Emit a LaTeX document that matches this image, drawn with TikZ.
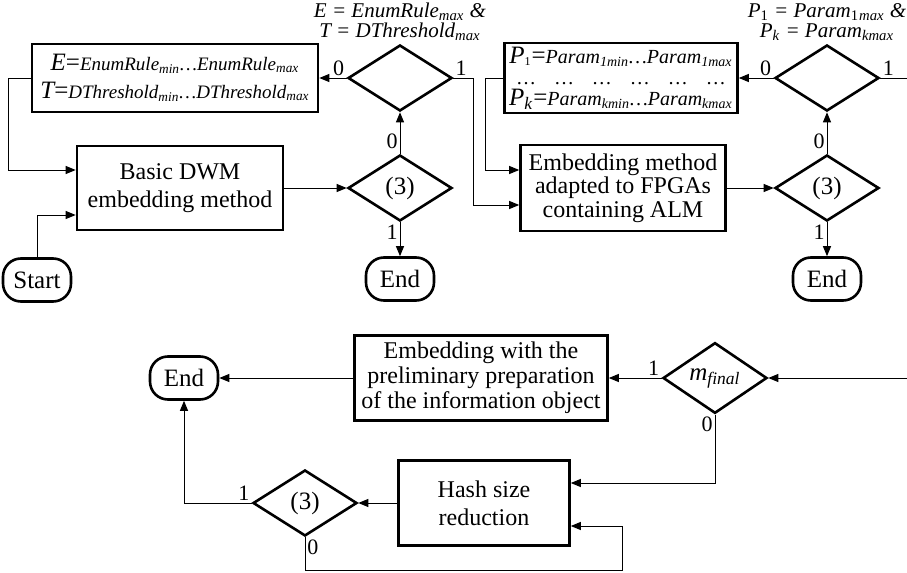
\documentclass[tikz,border=0pt]{standalone}
\usepackage{fontspec}
\setmainfont{Liberation Serif}
\usetikzlibrary{calc,shapes.geometric,arrows.meta}
\newcommand{\lo}[1]{\textsubscript{#1}}
\newcommand{\bigit}[1]{{\fontsize{12.5}{13}\selectfont\itshape #1}}
\newcommand{\eqs}{{\fontsize{12.5}{13}\selectfont=}}
\tikzset{
  block/.style={draw, line width=1.3pt, align=center, inner sep=1pt,
    font=\fontsize{12}{14}\selectfont},
  decision/.style={draw, diamond, line width=1.3pt, inner sep=0pt,
    minimum width=52pt, minimum height=33pt, font=\fontsize{12.5}{13}\selectfont},
  terminal/.style={draw, rounded corners=9pt, line width=1.3pt, inner sep=0pt,
    minimum width=34pt, minimum height=21.5pt, font=\fontsize{12.5}{13}\selectfont},
  conn/.style={line width=0.5pt},
  flow/.style={conn, -{Triangle[length=5pt,width=4pt]}},
  bit/.style={font=\fontsize{11}{11}\selectfont, inner sep=1pt},
  cond/.style={align=center, inner sep=0pt, font=\fontsize{10.5}{10}\selectfont\itshape},
}
\begin{document}
\begin{tikzpicture}[x=0.5pt, y=-0.5pt]
\useasboundingbox (0,0) rectangle (907,573);

% first stage
\node[terminal] (start) at (37,280) {Start};
\node[block, minimum width=103pt, minimum height=42pt] (basic) at (180,188)
  {Basic DWM\\embedding method};
\node[block, minimum width=143pt, minimum height=34pt] (range1) at (175,78)
  {\bigit{E}\eqs{\fontsize{9.5}{11}\selectfont\itshape EnumRule\lo{min}\ldots EnumRule\lo{max}}\\
   \bigit{T}\eqs{\fontsize{9.5}{11}\selectfont\itshape DThreshold\lo{min}\ldots DThreshold\lo{max}}};
\node[decision] (check1) at (400,188) {(3)};
\node[decision] (limit1) at (400,78) {};
\node[cond] (cond1) at (400,22) {E = EnumRule\lo{max} \&\\T = DThreshold\lo{max}};
\node[terminal] (end1) at (400,279) {End};

\draw[flow] (start.north) |- ($(basic.west)+(0,27)$);
\draw[flow] (range1.west) -- ++(-22,0) |- ($(basic.west)+(0,-18)$);
\draw[flow] (basic.east) -- (check1.west);
\draw[flow] (check1.north) -- (limit1.south) node[bit, pos=0.3, left] {0};
\draw[flow] (check1.south) -- (end1.north) node[bit, pos=0.3, left] {1};
\draw[flow] (limit1.west) -- (range1.east) node[bit, pos=0, above left] {0};

% second stage
\node[block, minimum width=102.5pt, minimum height=43pt, font=\fontsize{12}{11.7}\selectfont] (fpga) at (623,188)
  {Embedding method\\adapted to FPGAs\\containing ALM};
\node[block, minimum width=116.5pt, minimum height=35pt, font=\fontsize{12}{10.5}\selectfont] (range2) at (621,78)
  {\bigit{P}{\fontsize{9}{9}\selectfont\lo{1}}\eqs{\fontsize{10}{11}\selectfont\itshape Param\lo{1min}\ldots Param\lo{1max}}\\
   {\fontsize{10}{9}\selectfont\ldots\hspace{0.9em}\ldots\hspace{0.9em}\ldots\hspace{0.9em}\ldots\hspace{0.9em}\ldots\hspace{0.9em}\ldots}\\
   \bigit{P\lo{k}}\eqs{\fontsize{10}{11}\selectfont\itshape Param\lo{kmin}\ldots Param\lo{kmax}}};
\node[decision] (check2) at (827,188) {(3)};
\node[decision] (limit2) at (827,78) {};
\node[cond] (cond2) at (827,22) {P\lo{\upshape 1} = Param\lo{\upshape 1}\lo{max} \&\\P\lo{k} = Param\lo{kmax}};
\node[terminal] (end2) at (827,279) {End};
\coordinate (out2) at (907,78);

\draw[flow] (limit1.east) -- ++(20,0) |- ($(fpga.west)+(0,17)$);
\draw[flow] (range2.west) -- ++(-18,0) |- ($(fpga.west)+(0,-18)$);
\draw[flow] (fpga.east) -- (check2.west);
\draw[flow] (check2.north) -- (limit2.south) node[bit, pos=0.3, left] {0};
\draw[flow] (check2.south) -- (end2.north) node[bit, pos=0.3, left] {1};
\draw[flow] (limit2.west) -- (range2.east) node[bit, pos=0, above left] {0};
\draw[conn] (limit2.east) -- (out2) node[bit, pos=0, above right] {1};
\node[bit, above right] at (limit1.east) {1};

% third stage
\coordinate (in3) at (907,378);
\node[decision] (final) at (715,378) {\itshape m\lo{final}};
\node[block, minimum width=126.5pt, minimum height=42.5pt, font=\fontsize{12}{12.5}\selectfont] (prep) at (481,378)
  {Embedding with the\\preliminary preparation\\of the information object};
\node[terminal] (end3) at (184,378) {End};
\node[block, minimum width=85.5pt, minimum height=42.5pt] (hash) at (484,503)
  {Hash size\\reduction};
\node[decision] (check3) at (305,503) {(3)};
\coordinate (loopa) at (305,570);
\coordinate (loopb) at (622,570);
\coordinate (loopc) at (622,526);

\draw[flow] (in3) -- (final.east);
\draw[flow] (final.west) -- (prep.east) node[bit, pos=0, above left] {1};
\draw[flow] (prep.west) -- (end3.east);
\draw[flow] (final.south) |- ($(hash.east)+(0,-20)$);
\node[bit, below left] at (final.south) {0};
\draw[flow] (hash.west) -- (check3.east);
\draw[flow] (check3.west) -| (end3.south);
\node[bit, above left] at (check3.west) {1};
\draw[flow] (check3.south) -- (loopa) -- (loopb) -- (loopc) -- (hash.east |- loopc);
\node[bit, below right] at (check3.south) {0};
\end{tikzpicture}
\end{document}
